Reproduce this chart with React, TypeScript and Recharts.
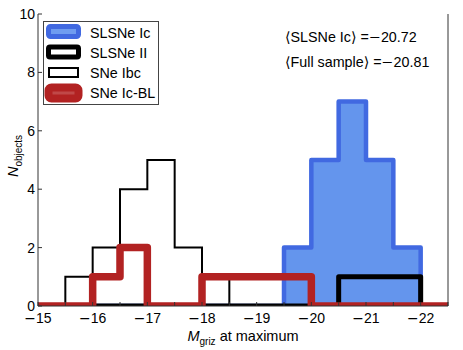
import React from 'react';
import { ComposedChart, Area, Line, XAxis, YAxis, Legend } from 'recharts';

const binEdges = [-15, -15.5, -16, -16.5, -17, -17.5, -18, -18.5, -19, -19.5, -20, -20.5, -21, -21.5, -22, -22.5];
const slsneIcCounts = [0, 0, 0, 0, 0, 0, 0, 0, 0, 2, 5, 7, 5, 2, 0];
const slsneIICounts = [0, 0, 0, 0, 0, 0, 0, 0, 0, 0, 0, 1, 1, 1, 0];
const sneIbcCounts = [0, 1, 2, 4, 5, 2, 1, 0, 0, 0, 0, 0, 0, 0, 0];
const sneIcBLCounts = [0, 0, 1, 2, 0, 0, 1, 1, 1, 1, 0, 0, 0, 0, 0];
const xTicks = [-15, -15.5, -16, -16.5, -17, -17.5, -18, -18.5, -19, -19.5, -20, -20.5, -21, -21.5, -22, -22.5];
const yTicks = [0, 2, 4, 6, 8, 10];
const seriesNames = ['SLSNe Ic', 'SLSNe II', 'SNe Ibc', 'SNe Ic-BL'];
const meanNames = ['SLSNe Ic', 'Full sample'];
const meanValues = [-20.72, -20.81];

const FONT = '"Liberation Sans", Arial, Helvetica, sans-serif';
const MINUS_FONT = '"DejaVu Sans", sans-serif';

function stepOutline(counts: number[]) {
  const pts: { x: number; y: number }[] = [{ x: binEdges[0], y: 0 }];
  counts.forEach((c, i) => {
    pts.push({ x: binEdges[i], y: c }, { x: binEdges[i + 1], y: c });
  });
  pts.push({ x: binEdges[binEdges.length - 1], y: 0 });
  return pts;
}

const slsneIcPts = stepOutline(slsneIcCounts);
const slsneIIPts = stepOutline(slsneIICounts);
const sneIbcPts = stepOutline(sneIbcCounts);
const sneIcBLPts = stepOutline(sneIcBLCounts);

const NumText = ({ v }: { v: number }) => (
  <>
    {v < 0 ? <tspan fontFamily={MINUS_FONT}>{'\u2212'}</tspan> : null}
    <tspan>{String(Math.abs(v))}</tspan>
  </>
);

const XTick = (props: any) => {
  const { x, y, payload } = props;
  const v = payload.value;
  if (!Number.isInteger(v)) return null;
  return (
    <text x={x} y={y} dy="0.71em" textAnchor="middle" fontSize={14} fontFamily={FONT} fill="#000">
      <NumText v={v} />
    </text>
  );
};

const YTick = (props: any) => {
  const { x, y, payload } = props;
  return (
    <text x={x} y={y} dy="0.36em" textAnchor="end" fontSize={14} fontFamily={FONT} fill="#000">
      <NumText v={payload.value} />
    </text>
  );
};

const XLabel = (props: any) => {
  const vb = props.viewBox || {};
  const cx = vb.x + vb.width / 2;
  const y = vb.y + 35;
  return (
    <text x={cx} y={y} textAnchor="middle" fontSize={14.5} fontFamily={FONT} fill="#000">
      <tspan fontStyle="italic">M</tspan>
      <tspan fontSize={10} dy={3.5}>griz</tspan>
      <tspan dy={-3.5}> at maximum</tspan>
    </text>
  );
};

const YLabel = (props: any) => {
  const vb = props.viewBox || {};
  const cy = vb.y + vb.height / 2 - 4;
  const bx = 18;
  return (
    <text transform={`translate(${bx},${cy}) rotate(-90)`} x={0} y={0} textAnchor="middle" fontSize={14.5} fontFamily={FONT} fill="#000">
      <tspan fontStyle="italic">N</tspan>
      <tspan fontSize={10} dy={3.5}>objects</tspan>
    </text>
  );
};

const swatches = [
  <rect key="a" x={4.5} y={3.5} width={30} height={10} rx={2} fill="#6F9CF0" stroke="#4169E1" strokeWidth={5} strokeLinejoin="round" />,
  <rect key="b" x={4.5} y={4} width={30} height={10} rx={1.5} fill="#fff" stroke="#000" strokeWidth={5} strokeLinejoin="round" />,
  <rect key="c" x={5} y={5} width={29} height={9} fill="none" stroke="#000" strokeWidth={2} />,
  <rect key="d" x={4.5} y={4.5} width={30} height={11} rx={3} fill="#C04848" stroke="#B22222" strokeWidth={8} strokeLinejoin="round" />,
];

const LegendBox = () => (
  <div style={{ border: '1px solid #444', background: '#fff', width: 114, height: 82, position: 'relative', fontFamily: FONT }}>
    {seriesNames.map((name, i) => (
      <div key={name} style={{ position: 'absolute', left: 0, top: 1 + i * 20, height: 20, display: 'flex', alignItems: 'center', whiteSpace: 'nowrap' }}>
        <svg width={40} height={20} style={{ display: 'block' }}>{swatches[i]}</svg>
        <span style={{ fontSize: 14.3, marginLeft: 6, color: '#000', lineHeight: '20px' }}>{name}</span>
      </div>
    ))}
  </div>
);

export default function App() {
  return (
    <div style={{ position: 'absolute', left: 0, top: 0, width: 463, height: 350, background: '#fff', fontFamily: FONT }}>
      <ComposedChart width={463} height={350} data={slsneIcPts} margin={{ top: 14, right: 0, bottom: 0, left: 0 }}>
        <XAxis
          xAxisId="b"
          dataKey="x"
          type="number"
          domain={[-22.5, -15]}
          reversed
          allowDataOverflow
          ticks={xTicks}
          interval={0}
          tick={<XTick />}
          tickSize={-4}
          tickMargin={11}
          height={44}
          stroke="#333"
          label={<XLabel />}
        />
        <XAxis
          xAxisId="t"
          orientation="top"
          dataKey="x"
          type="number"
          domain={[-22.5, -15]}
          reversed
          allowDataOverflow
          ticks={xTicks}
          interval={0}
          tick={false}
          tickSize={-4}
          height={0}
          stroke="#333"
        />
        <YAxis
          yAxisId="l"
          type="number"
          domain={[0, 10]}
          allowDataOverflow
          ticks={yTicks}
          interval={0}
          tick={<YTick />}
          tickSize={-4}
          tickMargin={7}
          width={38}
          stroke="#333"
          label={<YLabel />}
        />
        <YAxis
          yAxisId="r"
          orientation="right"
          type="number"
          domain={[0, 10]}
          allowDataOverflow
          ticks={yTicks}
          interval={0}
          tick={false}
          tickSize={-4}
          width={15}
          stroke="#333"
        />
        <Legend
          layout="vertical"
          align="center"
          verticalAlign="middle"
          content={<LegendBox />}
          wrapperStyle={{ left: 43, top: 21, width: 'auto', height: 'auto' }}
        />
        <Area
          xAxisId="b"
          yAxisId="l"
          dataKey="y"
          name={seriesNames[0]}
          type="linear"
          fill="#6495ED"
          fillOpacity={1}
          stroke="#4169E1"
          strokeWidth={4.5}
          strokeLinejoin="round"
          dot={false}
          activeDot={false}
          isAnimationActive={false}
        />
        <Line
          xAxisId="b"
          yAxisId="l"
          data={slsneIIPts}
          dataKey="y"
          name={seriesNames[1]}
          type="linear"
          stroke="#000"
          strokeWidth={5}
          strokeLinejoin="round"
          dot={false}
          activeDot={false}
          isAnimationActive={false}
        />
        <Line
          xAxisId="b"
          yAxisId="l"
          data={sneIbcPts}
          dataKey="y"
          name={seriesNames[2]}
          type="linear"
          stroke="#000"
          strokeWidth={2}
          dot={false}
          activeDot={false}
          isAnimationActive={false}
        />
        <Line
          xAxisId="b"
          yAxisId="l"
          data={sneIcBLPts}
          dataKey="y"
          name={seriesNames[3]}
          type="linear"
          stroke="#B22222"
          strokeWidth={7.5}
          strokeLinejoin="round"
          dot={false}
          activeDot={false}
          isAnimationActive={false}
        />
      </ComposedChart>
      {meanNames.map((name, i) => (
        <div
          key={name}
          style={{ position: 'absolute', left: 285, top: 28 + i * 25, fontSize: 14.3, lineHeight: '18px', color: '#000', whiteSpace: 'nowrap', fontFamily: FONT }}
        >
          <span style={{ fontFamily: MINUS_FONT }}>{'\u27E8'}</span>
          {name}
          <span style={{ fontFamily: MINUS_FONT }}>{'\u27E9'}</span>
          {' ='}
          <span style={{ fontFamily: MINUS_FONT }}>{meanValues[i] < 0 ? '\u2212' : ''}</span>
          {Math.abs(meanValues[i]).toFixed(2)}
        </div>
      ))}
    </div>
  );
}
